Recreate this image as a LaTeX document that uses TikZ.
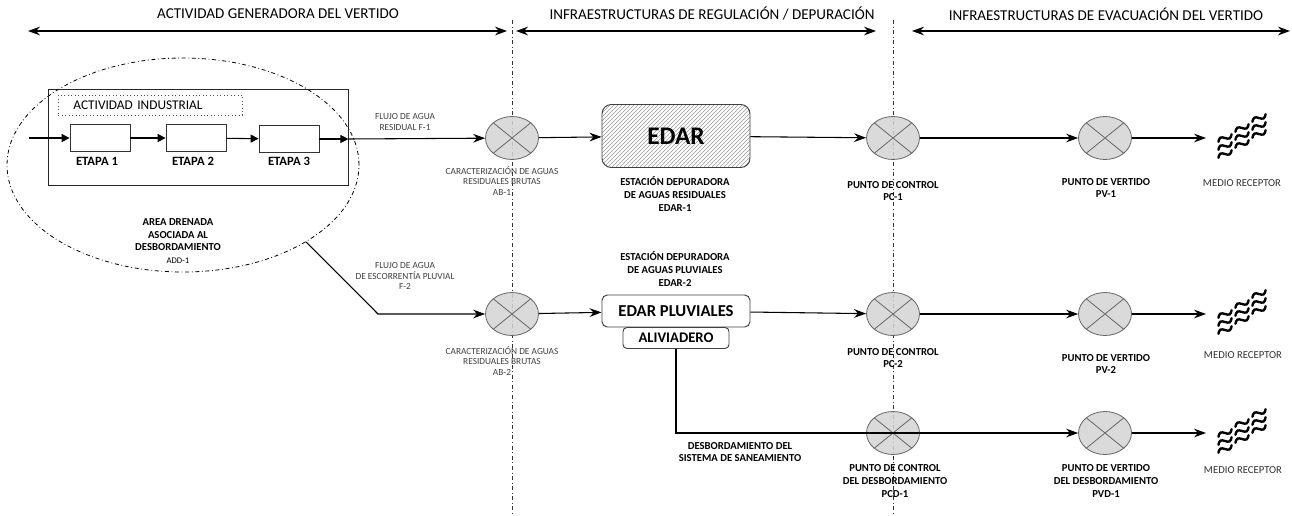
\documentclass[tikz,border=0pt]{standalone}
\usepackage{fontspec}
\setmainfont{Carlito}
\usetikzlibrary{arrows.meta,shapes.geometric,patterns}

\begin{document}
\begin{tikzpicture}[x=0.75pt,y=0.75pt,yscale=-1,xscale=1,
  flecha/.style={line width=0.8pt,-{Stealth[length=9pt,width=6.5pt,inset=3pt]}},
  flechita/.style={line width=0.8pt,-{Triangle[length=6pt,width=6pt]}},
  doble/.style={line width=0.8pt,{Stealth[length=9pt,width=6.5pt,inset=3pt]}-{Stealth[length=9pt,width=6.5pt,inset=3pt]}},
  limite/.style={line width=0.6pt,dash dot,black!80},
  punto/.style={ellipse,draw=black!60,line width=0.6pt,fill=black!17,fill opacity=0.85,minimum width=39.75pt,minimum height=32.25pt,inner sep=0pt,
    path picture={\draw[black!60,line width=0.6pt] (path picture bounding box.north west) -- (path picture bounding box.south east) (path picture bounding box.north east) -- (path picture bounding box.south west);}},
  etapa/.style={draw=black!80,line width=0.6pt,fill=white,minimum width=45pt,minimum height=20.5pt,inner sep=0pt},
  titulo/.style={inner sep=0.75pt,font=\fontsize{11.3}{13}\selectfont},
  etiq/.style={inner sep=0.75pt,align=center,font=\bfseries\fontsize{8}{9.6}\selectfont},
  etiqp/.style={inner sep=0.75pt,align=center,text=black!75,font=\fontsize{7}{7.9}\selectfont},
  receptor/.style={inner sep=0.75pt,text=black!80,font=\fontsize{8}{9.6}\selectfont},
  olas/.pic={\foreach \c in {0,1,2}{\foreach \r in {0,1,2}{
    \draw[line width=1.8pt,line cap=round,shift={(\c*17-17,8-\r*8+\c*10-10)},rotate=30] (-7.6,0) sin ++(3.8,2.6) cos ++(3.8,-2.6) sin ++(3.8,-2.6) cos ++(3.8,2.6);}}}
]
\path[use as bounding box,fill=white] (0,0) rectangle (1292,515);

%Straight Lines: limits of the three zones
\coordinate (v1a) at (512,20);
\coordinate (v1b) at (512,515);
\coordinate (v2a) at (893,20);
\coordinate (v2b) at (893,515);
\draw[limite] (v1a) -- (v1b);
\draw[limite] (v2a) -- (v2b);

% Text Node
\node[titulo] (t1) at (278,14) {ACTIVIDAD GENERADORA DEL VERTIDO};
\node[titulo] (t2) at (712,14) {INFRAESTRUCTURAS DE REGULACIÓN / DEPURACIÓN};
\node[titulo] (t3) at (1106,14) {INFRAESTRUCTURAS DE EVACUACIÓN DEL VERTIDO};
\coordinate (a1i) at (28,31);
\coordinate (a1d) at (507,31);
\coordinate (a2i) at (516,31);
\coordinate (a2d) at (876,31);
\coordinate (a3i) at (912,31);
\coordinate (a3d) at (1290,31);
\draw[doble] (a1i) -- (a1d);
\draw[doble] (a2i) -- (a2d);
\draw[doble] (a3i) -- (a3d);

%Shape: Ellipse (area drenada)
\node[ellipse,draw,line width=0.6pt,dash dot,minimum width=264pt,minimum height=160.5pt,inner sep=0pt] (area) at (183,165) {};
%Shape: Rectangle (actividad industrial)
\node[draw=black!85,line width=0.7pt,minimum width=225pt,minimum height=72pt,inner sep=0pt] (ind) at (198,137) {};
\node[draw=black!70,dotted,line width=0.6pt,anchor=west,minimum height=15pt,text width=115.5pt,inner xsep=11.25pt,inner ysep=0pt,align=left,font=\fontsize{10}{12}\selectfont] (actind) at (58,105) {ACTIVIDAD INDUSTRIAL};
\node[etapa] (e1) at (100,138) {};
\node[etapa] (e2) at (196,138) {};
\node[etapa] (e3) at (289,139) {};
\node[etiq,font=\bfseries\fontsize{9.5}{11}\selectfont] (le1) at (97,161) {ETAPA 1};
\node[etiq,font=\bfseries\fontsize{9.5}{11}\selectfont] (le2) at (193,161) {ETAPA 2};
\node[etiq,font=\bfseries\fontsize{9.5}{11}\selectfont] (le3) at (289,161) {ETAPA 3};
\node[etiq] (larea) at (178,241) {AREA DRENADA\\ASOCIADA AL\\DESBORDAMIENTO\\{\mdseries\fontsize{6.5}{8}\selectfont ADD-1}};

%Shape: control points
\node[punto] (AB1) at (512,138) {};
\node[punto] (PC1) at (893,138) {};
\node[punto] (PV1) at (1105,138) {};
\node[punto] (AB2) at (512,314) {};
\node[punto] (PC2) at (893,314) {};
\node[punto] (PV2) at (1105,314) {};
\node[punto] (PCD1) at (893,433) {};
\node[punto] (PVD1) at (1105,433) {};

%Shape: treatment plants
\node[draw=black!75,line width=0.7pt,rounded corners=7pt,pattern=north east lines,pattern color=black!40,minimum width=111pt,minimum height=47.25pt,inner sep=0pt,font=\bfseries\fontsize{19}{22}\selectfont] (edar) at (676,136) {EDAR};
\node[draw=black!75,line width=0.7pt,rounded corners=4pt,fill=white,minimum width=111pt,minimum height=24pt,inner sep=0pt,font=\bfseries\fontsize{12.5}{15}\selectfont] (edarp) at (676,311) {EDAR PLUVIALES};
\node[draw=black!75,line width=0.7pt,rounded corners=3pt,fill=white,minimum width=79.5pt,minimum height=15.75pt,inner sep=0pt,font=\bfseries\fontsize{11}{13}\selectfont] (aliv) at (676,338) {ALIVIADERO};

%Shape: medio receptor
\pic at (1242,136) {olas};
\pic at (1242,312) {olas};
\pic at (1242,431) {olas};

% Text Node
\node[etiqp] (lF1) at (405,122) {FLUJO DE AGUA\\RESIDUAL F-1};
\node[etiqp] (lF2) at (405,276) {FLUJO DE AGUA\\DE ESCORRENTÍA PLUVIAL\\F-2};
\node[etiqp] (lAB1) at (502,181) {CARACTERIZACIÓN DE AGUAS\\RESIDUALES BRUTAS\\AB-1};
\node[etiqp] (lAB2) at (502,361) {CARACTERIZACIÓN DE AGUAS\\RESIDUALES BRUTAS\\AB-2};
\node[etiq] (ledar) at (675,194) {ESTACIÓN DEPURADORA\\DE AGUAS RESIDUALES\\EDAR-1};
\node[etiq] (ledarp) at (675,269) {ESTACIÓN DEPURADORA\\DE AGUAS PLUVIALES\\EDAR-2};
\node[etiq] (ldesb) at (740,452) {DESBORDAMIENTO DEL\\SISTEMA DE SANEAMIENTO};
\node[etiq] (lPC1) at (893,191) {PUNTO DE CONTROL\\PC-1};
\node[etiq] (lPV1) at (1106,188) {PUNTO DE VERTIDO\\PV-1};
\node[receptor] (lMR1) at (1242,183) {MEDIO RECEPTOR};
\node[etiq] (lPC2) at (893,358) {PUNTO DE CONTROL\\PC-2};
\node[etiq] (lPV2) at (1106,364) {PUNTO DE VERTIDO\\PV-2};
\node[receptor] (lMR2) at (1243,355) {MEDIO RECEPTOR};
\node[etiq] (lPCD1) at (895,481) {PUNTO DE CONTROL\\DEL DESBORDAMIENTO\\PCD-1};
\node[etiq] (lPVD1) at (1106,481) {PUNTO DE VERTIDO\\DEL DESBORDAMIENTO\\PVD-1};
\node[receptor] (lMR3) at (1243,470) {MEDIO RECEPTOR};

%Straight Lines: flows
\coordinate (in) at (29,138);
\coordinate (kF1) at (e3 -| ind.east);
\coordinate (kF2) at (378,314);
\coordinate (kD) at (aliv.south |- PCD1);
\coordinate (mr1) at (1206,138);
\coordinate (mr2) at (1206,314);
\coordinate (mr3) at (1206,433);
\draw[flechita] (in) -- (e1);
\draw[flechita] (e1) -- (e2);
\draw[flechita] (e2) -- (e3);
\draw[flechita] (e3) -- (kF1);
\draw[flecha] (kF1) -- (AB1);
\draw[flecha] (AB1) -- (edar);
\draw[flecha] (edar) -- (PC1);
\draw[flecha] (PC1) -- (PV1);
\draw[flecha] (PV1) -- (mr1);
\draw[flecha] (area.-32) -- (kF2) -- (AB2);
\draw[flecha] (AB2) -- (edarp);
\draw[flecha] (edarp) -- (PC2);
\draw[flecha] (PC2) -- (PV2);
\draw[flecha] (PV2) -- (mr2);
\draw[flecha] (aliv) -- (kD) -- (PVD1);
\draw[flecha] (PVD1) -- (mr3);

\end{tikzpicture}
\end{document}
